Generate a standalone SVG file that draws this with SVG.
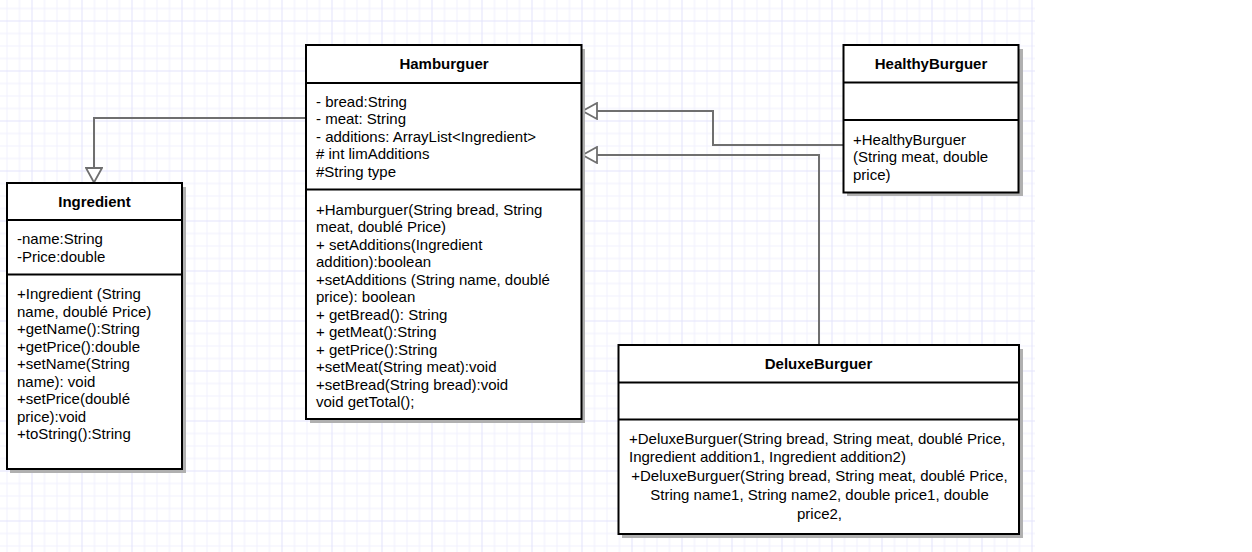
<svg xmlns="http://www.w3.org/2000/svg" width="1252" height="552" viewBox="0 0 1252 552">
  <defs>
    <pattern id="grid" patternUnits="userSpaceOnUse" x="31.5" y="20.5" width="50" height="50">
      <rect x="0" y="0" width="50" height="50" fill="#ffffff"/>
      <rect x="12.5" y="0" width="1" height="50" fill="#f0f0fd"/>
      <rect x="25" y="0" width="1" height="50" fill="#f0f0fd"/>
      <rect x="37.5" y="0" width="1" height="50" fill="#f0f0fd"/>
      <rect x="0" y="12.5" width="50" height="1" fill="#f0f0fd"/>
      <rect x="0" y="25" width="50" height="1" fill="#f0f0fd"/>
      <rect x="0" y="37.5" width="50" height="1" fill="#f0f0fd"/>
      <rect x="0" y="0" width="1" height="50" fill="#e3e3fb"/>
      <rect x="0" y="0" width="50" height="1" fill="#e3e3fb"/>
    </pattern>
    <marker id="inherit" viewBox="0 0 16 18" refX="16" refY="9" markerWidth="16" markerHeight="18" markerUnits="userSpaceOnUse" orient="auto">
      <path d="M1,1 L15.5,9 L1,17 Z" fill="#ffffff" stroke="#6f6f6f" stroke-width="1.8"/>
    </marker>
  </defs>
  <style>
    .box { fill: #ffffff; stroke: #000000; stroke-width: 2; }
    .shadow { fill: #b0b0b0; }
    .div { stroke: #000000; stroke-width: 2; }
    .title { font-family: "Liberation Sans", Arial, sans-serif; font-size: 15px; font-weight: bold; text-anchor: middle; fill: #000000; }
    .txt { font-family: "Liberation Sans", Arial, sans-serif; font-size: 15px; fill: #000000; }
    .ctr { text-anchor: middle; }
    .edge { fill: none; stroke: #6f6f6f; stroke-width: 2; marker-end: url(#inherit); }
  </style>

  <rect x="0" y="0" width="1252" height="552" fill="#ffffff"/>
  <rect x="0" y="0" width="1035" height="552" fill="url(#grid)"/>

  <g id="connectors">
    <path class="edge" d="M306,118 L94,118 L94,183"/>
    <path class="edge" d="M843,145 L713,145 L713,111 L582,111"/>
    <path class="edge" d="M819,345 L819,155 L582,155"/>
  </g>

  <g id="Ingredient">
    <rect class="shadow" x="10" y="187" width="176" height="286"/>
    <rect class="box" x="7" y="183" width="175" height="286"/>
    <line class="div" x1="7" y1="220" x2="182" y2="220"/>
    <line class="div" x1="7" y1="274.5" x2="182" y2="274.5"/>
    <text class="title" x="94.5" y="206.5">Ingredient</text>
    <text class="txt" x="17" y="244">-name:String</text>
    <text class="txt" x="17" y="261.5">-Price:double</text>
    <text class="txt" x="17" y="299">+Ingredient (String</text>
    <text class="txt" x="17" y="316.5">name, doublé Price)</text>
    <text class="txt" x="17" y="334">+getName():String</text>
    <text class="txt" x="17" y="351.5">+getPrice():double</text>
    <text class="txt" x="17" y="369">+setName(String</text>
    <text class="txt" x="17" y="386.5">name): void</text>
    <text class="txt" x="17" y="404">+setPrice(doublé</text>
    <text class="txt" x="17" y="421.5">price):void</text>
    <text class="txt" x="17" y="439">+toString():String</text>
  </g>

  <g id="Hamburguer">
    <rect class="shadow" x="310" y="49" width="275" height="374"/>
    <rect class="box" x="306" y="45" width="275.5" height="374"/>
    <line class="div" x1="306" y1="83" x2="581.5" y2="83"/>
    <line class="div" x1="306" y1="189.5" x2="581.5" y2="189.5"/>
    <text class="title" x="444" y="69">Hamburguer</text>
    <text class="txt" x="316" y="106.5">- bread:String</text>
    <text class="txt" x="316" y="124">- meat: String</text>
    <text class="txt" x="316" y="141.5">- additions: ArrayList&lt;Ingredient&gt;</text>
    <text class="txt" x="316" y="159">#  int limAdditions</text>
    <text class="txt" x="316" y="176.5">#String type</text>
    <text class="txt" x="316" y="214.5">+Hamburguer(String bread, String</text>
    <text class="txt" x="316" y="232">meat, doublé Price)</text>
    <text class="txt" x="316" y="249.5">+ setAdditions(Ingredient</text>
    <text class="txt" x="316" y="267">addition):boolean</text>
    <text class="txt" x="316" y="284.5">+setAdditions (String name, doublé</text>
    <text class="txt" x="316" y="302">price): boolean</text>
    <text class="txt" x="316" y="319.5">+ getBread(): String</text>
    <text class="txt" x="316" y="337">+ getMeat():String</text>
    <text class="txt" x="316" y="354.5">+ getPrice():String</text>
    <text class="txt" x="316" y="372">+setMeat(String meat):void</text>
    <text class="txt" x="316" y="389.5">+setBread(String bread):void</text>
    <text class="txt" x="316" y="407">void getTotal();</text>
  </g>

  <g id="HealthyBurguer">
    <rect class="shadow" x="847" y="49" width="176" height="147"/>
    <rect class="box" x="843.5" y="45" width="175" height="147.5"/>
    <line class="div" x1="843.5" y1="82.5" x2="1018.5" y2="82.5"/>
    <line class="div" x1="843.5" y1="120" x2="1018.5" y2="120"/>
    <text class="title" x="931" y="69">HealthyBurguer</text>
    <text class="txt" x="853" y="144.5">+HealthyBurguer</text>
    <text class="txt" x="853" y="162">(String meat, double</text>
    <text class="txt" x="853" y="179.5">price)</text>
  </g>

  <g id="DeluxeBurguer">
    <rect class="shadow" x="622" y="349" width="401" height="189"/>
    <rect class="box" x="618.5" y="345" width="400.5" height="189"/>
    <line class="div" x1="618.5" y1="382.5" x2="1019" y2="382.5"/>
    <line class="div" x1="618.5" y1="419.5" x2="1019" y2="419.5"/>
    <text class="title" x="818.5" y="369">DeluxeBurguer</text>
    <text class="txt" x="629" y="444">+DeluxeBurguer(String bread, String meat, doublé Price,</text>
    <text class="txt" x="629" y="462">Ingredient addition1, Ingredient addition2)</text>
    <text class="txt ctr" x="819.5" y="481">+DeluxeBurguer(String bread, String meat, doublé Price,</text>
    <text class="txt ctr" x="819.5" y="500">String name1, String name2, double price1, double</text>
    <text class="txt ctr" x="819.5" y="519">price2,</text>
  </g>
</svg>
